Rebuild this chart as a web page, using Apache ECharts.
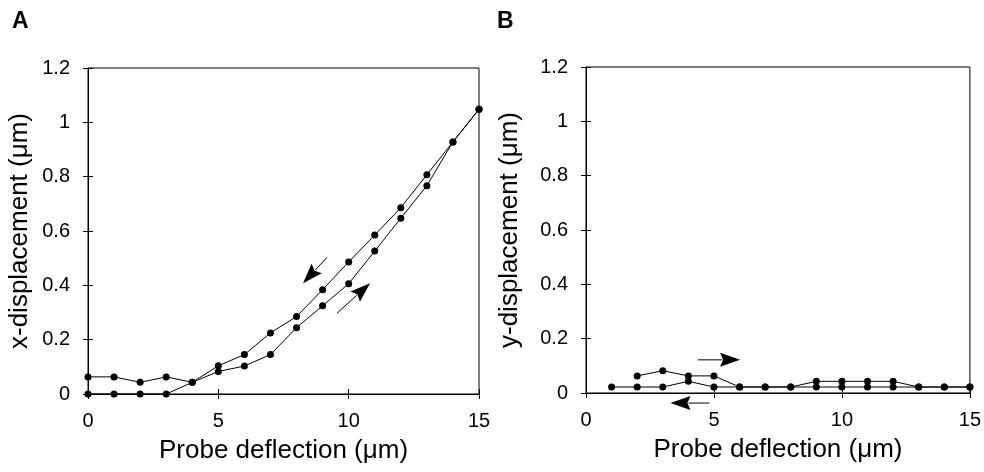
<!DOCTYPE html>
<html><head><meta charset="utf-8">
<script src="https://cdn.jsdelivr.net/npm/echarts@6/dist/echarts.min.js"></script>
<style>html,body{margin:0;padding:0;background:#fff}#c{width:984px;height:472px}</style>
</head><body><div id="c"></div>
<script>
const deflection = [0,1,2,3,4,5,6,7,8,9,10,11,12,13,14,15];
const xDispUnloading = [0.063,0.063,0.043,0.063,0.043,0.104,0.145,0.225,0.285,0.384,0.486,0.585,0.686,0.807,0.928,1.048];
const xDispLoading   = [0,0,0,0,0.043,0.083,0.103,0.145,0.244,0.325,0.406,0.526,0.647,0.767,0.928,1.048];
const yDispUpper = [null,null,0.063,0.082,0.063,0.063,0.022,0.022,0.022,0.043,0.043,0.043,0.043,0.022,0.022,0.022];
const yDispLower = [null,0.022,0.022,0.022,0.043,0.022,0.022,0.022,0.022,0.022,0.022,0.022,0.022,0.022,0.022,0.022];
const xTicks = [0,5,10,15];
const yTicks = [0,0.2,0.4,0.6,0.8,1,1.2];
// arrows: [x tail, y tail, x tip, y tip] in data units
const arrowsA = [[9.17,0.503,8.25,0.408],[9.55,0.297,10.82,0.408]];
const arrowsB = [[4.37,0.122,6.02,0.122],[4.83,-0.037,3.30,-0.037]];
const panelLabels = ['A','B'];
const xName = 'Probe deflection (\u03bcm)';
const yNames = ['x-displacement (\u03bcm)','y-displacement (\u03bcm)'];

const FONT = '"Liberation Sans", Arial, sans-serif';
const chart = echarts.init(document.getElementById('c'), null, {renderer:'canvas'});

function pairs(ys){ return deflection.map((x,i)=> ys[i]==null ? null : [x, ys[i]]).filter(d=>d); }

function mkX(gi, main){
  return {
    type:'value', gridIndex:gi, min:xTicks[0], max:xTicks[xTicks.length-1], interval:xTicks[1]-xTicks[0], position:'bottom',
    axisLine:{show:main, onZero:false, lineStyle:{color:'#000', width:1}},
    axisTick:{show:true, inside:!main, length:5, lineStyle:{color:'#000'}},
    axisLabel:{show:main, color:'#000', fontFamily:FONT, fontSize:20, margin:17},
    splitLine:{show:false},
    name: main ? xName : '', nameLocation:'middle', nameGap:44,
    nameTextStyle:{color:'#000', fontFamily:FONT, fontSize:26}
  };
}
function mkY(gi, main){
  return {
    type:'value', gridIndex:gi, min:yTicks[0], max:yTicks[yTicks.length-1], interval:0.2, position:'left',
    axisLine:{show:main, onZero:false, lineStyle:{color:'#000', width:1}},
    axisTick:{show:true, inside:!main, length:5, lineStyle:{color:'#000'}},
    axisLabel:{show:main, color:'#000', fontFamily:FONT, fontSize:20, margin:18,
      formatter: v => String(Math.round(v*10)/10)},
    splitLine:{show:false},
    name: main ? yNames[gi] : '', nameLocation:'middle', nameGap: gi===0 ? 55 : 63,
    nameTextStyle:{color:'#000', fontFamily:FONT, fontSize:26}
  };
}

function lineSeries(xi, yi, ys){
  return {type:'line', xAxisIndex:xi, yAxisIndex:yi, data:pairs(ys), symbol:'circle', symbolSize:7,
    itemStyle:{color:'#000'}, lineStyle:{color:'#000', width:1}, clip:false, z:3};
}
function arrowSeries(xi, yi, arr){
  return {type:'custom', xAxisIndex:xi, yAxisIndex:yi, data:arr, clip:false, z:4,
    renderItem:function(params, api){
      const p1 = api.coord([api.value(0), api.value(1)]);
      const p2 = api.coord([api.value(2), api.value(3)]);
      const dx=p2[0]-p1[0], dy=p2[1]-p1[1], L=Math.sqrt(dx*dx+dy*dy);
      const ux=dx/L, uy=dy/L, hl=20, hw=7;
      const bx=p2[0]-ux*hl, by=p2[1]-uy*hl;
      return {type:'group', children:[
        {type:'line', shape:{x1:p1[0],y1:p1[1],x2:bx+ux*2,y2:by+uy*2}, style:{stroke:'#000', lineWidth:1}},
        {type:'polygon', shape:{points:[[p2[0],p2[1]],[bx-uy*hw,by+ux*hw],[bx+ux*3,by+uy*3],[bx+uy*hw,by-ux*hw]]}, style:{fill:'#000'}}
      ]};
    }};
}

chart.setOption({
  backgroundColor:'#fff',
  animation:false,
  title: panelLabels.map((t,i)=>({text:t, left: i===0?12:497, top:10, padding:0,
    textStyle:{fontFamily:FONT, fontSize:23, fontWeight:'bold', color:'#000'}})),
  grid:[
    {left:88, right:505, top:68, bottom:78, show:true, borderColor:'#000', borderWidth:1, backgroundColor:'transparent'},
    {left:586, right:6, top:67, bottom:79, show:true, borderColor:'#000', borderWidth:1, backgroundColor:'transparent'}
  ],
  xAxis:[mkX(0,true), mkX(1,true), mkX(0,false), mkX(1,false)],
  yAxis:[mkY(0,true), mkY(1,true), mkY(0,false), mkY(1,false)],
  series:[
    lineSeries(0,0,xDispUnloading),
    lineSeries(0,0,xDispLoading),
    lineSeries(1,1,yDispUpper),
    lineSeries(1,1,yDispLower),
    arrowSeries(0,0,arrowsA),
    arrowSeries(1,1,arrowsB)
  ]
});
</script></body></html>
